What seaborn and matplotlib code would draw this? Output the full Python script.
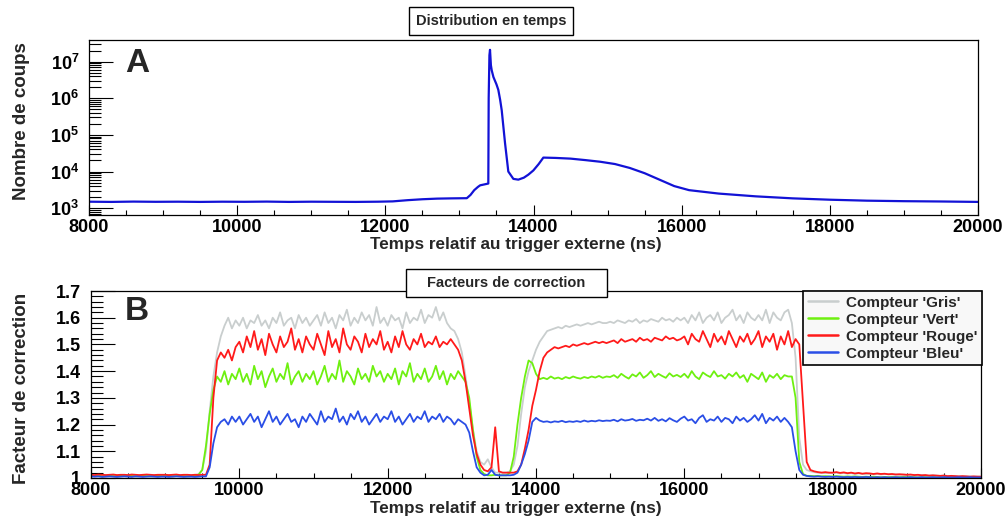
"""
Distribution en temps (A) et facteurs de correction des compteurs (B).
Two stacked panels in a ROOT-like style, drawn with seaborn line plots.
"""

import numpy as np
import pandas as pd
import matplotlib
matplotlib.use('Agg')
import matplotlib.pyplot as plt
from matplotlib.patches import Rectangle
from matplotlib.ticker import LogLocator, NullFormatter, FuncFormatter, MultipleLocator
import seaborn as sns

# ---------------------------------------------------------------- data
# Panel A: time distribution (ns, counts)
top_time = [8000, 8300, 8600, 8900, 9200, 9500, 9800, 10100, 10400, 10700,
            11000, 11300, 11600, 11900, 12100, 12300, 12500, 12700, 12900, 13100,
            13150, 13200, 13250, 13280, 13370, 13390, 13395, 13405, 13413, 13425,
            13436, 13459, 13500, 13525, 13550, 13571, 13616, 13660, 13728, 13795,
            13870, 13930, 13998, 14070, 14133, 14300, 14500, 14700, 14900, 15100,
            15300, 15500, 15700, 15900, 16100, 16500, 17000, 17500, 18000, 18500,
            19000, 19500, 20000]
top_counts = [1500, 1480, 1510, 1490, 1500, 1480, 1500, 1490, 1510, 1480,
              1500, 1490, 1480, 1500, 1530, 1650, 1750, 1820, 1850, 1870,
              2300, 3100, 3800, 4200, 4600, 4700, 1.0e6, 1.5e7, 2.1e7, 8.0e6,
              5.8e6, 3.8e6, 2.4e6, 1.7e6, 9.0e5, 4.7e5, 5.9e4, 1.0e4, 6300, 6000,
              6800, 8200, 10700, 16000, 24000, 23500, 22500, 20500, 18500, 16000,
              12500, 9000, 6000, 4000, 3100, 2500, 2100, 1850, 1700, 1600,
              1550, 1520, 1480]

# Panel B: correction factors, one value every 50 ns from 8000 to 20000 ns
bin_start = 8000
bin_width = 50

gris = [
    1.012, 1.010, 1.011, 1.009, 1.010, 1.011, 1.010, 1.009, 1.011, 1.010, 1.010, 1.012, 1.010, 1.009, 1.010, 1.011, 1.010, 1.010, 1.009, 1.011,
    1.010, 1.011, 1.010, 1.009, 1.010, 1.011, 1.010, 1.010, 1.012, 1.015, 1.03, 1.10, 1.25, 1.38, 1.47, 1.53, 1.57, 1.60, 1.56, 1.59,
    1.57, 1.60, 1.56, 1.59, 1.58, 1.61, 1.57, 1.59, 1.56, 1.60, 1.58, 1.62, 1.57, 1.59, 1.60, 1.56, 1.61, 1.58, 1.60, 1.57,
    1.59, 1.61, 1.57, 1.62, 1.58, 1.60, 1.56, 1.61, 1.59, 1.63, 1.57, 1.60, 1.58, 1.62, 1.59, 1.61, 1.57, 1.64, 1.58, 1.60,
    1.57, 1.61, 1.59, 1.60, 1.56, 1.62, 1.58, 1.60, 1.59, 1.63, 1.58, 1.61, 1.60, 1.64, 1.59, 1.62, 1.58, 1.56, 1.55, 1.52,
    1.47, 1.38, 1.28, 1.18, 1.10, 1.06, 1.05, 1.07, 1.04, 1.02, 1.02, 1.02, 1.02, 1.025, 1.05, 1.12, 1.24, 1.34, 1.40, 1.44,
    1.48, 1.51, 1.53, 1.55, 1.555, 1.56, 1.565, 1.56, 1.57, 1.565, 1.57, 1.575, 1.57, 1.575, 1.58, 1.575, 1.58, 1.585, 1.58, 1.58,
    1.585, 1.58, 1.59, 1.585, 1.58, 1.59, 1.585, 1.595, 1.58, 1.59, 1.585, 1.595, 1.59, 1.585, 1.60, 1.59, 1.595, 1.585, 1.60, 1.59,
    1.60, 1.58, 1.61, 1.59, 1.62, 1.58, 1.60, 1.61, 1.59, 1.62, 1.58, 1.60, 1.61, 1.63, 1.59, 1.61, 1.58, 1.62, 1.60, 1.59,
    1.61, 1.59, 1.63, 1.58, 1.62, 1.60, 1.59, 1.62, 1.63, 1.58, 1.45, 1.15, 1.05, 1.03, 1.025, 1.022, 1.02, 1.02, 1.018, 1.02,
    1.018, 1.02, 1.017, 1.019, 1.016, 1.018, 1.015, 1.017, 1.016, 1.015, 1.016, 1.014, 1.015, 1.013, 1.015, 1.014, 1.013, 1.014, 1.012, 1.013,
    1.012, 1.011, 1.012, 1.010, 1.011, 1.010, 1.009, 1.010, 1.009, 1.008, 1.009, 1.008, 1.007, 1.008, 1.007, 1.006, 1.007, 1.006, 1.005, 1.006,
    1.005]

vert = [
    1.008, 1.007, 1.008, 1.006, 1.007, 1.008, 1.007, 1.006, 1.008, 1.007, 1.007, 1.008, 1.006, 1.007, 1.008, 1.007, 1.006, 1.007, 1.008, 1.007,
    1.007, 1.008, 1.006, 1.007, 1.008, 1.007, 1.006, 1.007, 1.009, 1.012, 1.03, 1.12, 1.24, 1.33, 1.38, 1.36, 1.40, 1.35, 1.39, 1.37,
    1.41, 1.36, 1.39, 1.35, 1.42, 1.37, 1.40, 1.34, 1.38, 1.41, 1.36, 1.39, 1.37, 1.43, 1.35, 1.38, 1.40, 1.36, 1.39, 1.37,
    1.40, 1.35, 1.38, 1.42, 1.36, 1.39, 1.37, 1.44, 1.36, 1.40, 1.38, 1.35, 1.41, 1.37, 1.39, 1.36, 1.42, 1.38, 1.40, 1.36,
    1.39, 1.37, 1.41, 1.35, 1.40, 1.38, 1.43, 1.36, 1.39, 1.37, 1.41, 1.36, 1.38, 1.42, 1.37, 1.40, 1.35, 1.39, 1.37, 1.40,
    1.38, 1.36, 1.30, 1.18, 1.08, 1.03, 1.015, 1.01, 1.01, 1.012, 1.01, 1.01, 1.01, 1.02, 1.08, 1.20, 1.30, 1.38, 1.44, 1.43,
    1.39, 1.37, 1.375, 1.37, 1.38, 1.372, 1.376, 1.37, 1.378, 1.373, 1.38, 1.375, 1.372, 1.378, 1.374, 1.38, 1.376, 1.382, 1.375, 1.38,
    1.378, 1.385, 1.375, 1.39, 1.38, 1.372, 1.388, 1.38, 1.395, 1.375, 1.385, 1.40, 1.378, 1.39, 1.382, 1.375, 1.392, 1.38, 1.386, 1.378,
    1.39, 1.375, 1.40, 1.38, 1.37, 1.395, 1.385, 1.378, 1.40, 1.38, 1.385, 1.372, 1.39, 1.38, 1.395, 1.375, 1.385, 1.36, 1.39, 1.38,
    1.37, 1.395, 1.36, 1.385, 1.375, 1.39, 1.37, 1.385, 1.38, 1.38, 1.30, 1.06, 1.015, 1.008, 1.008, 1.007, 1.008, 1.006, 1.007, 1.006,
    1.006, 1.007, 1.006, 1.005, 1.006, 1.005, 1.006, 1.005, 1.004, 1.005, 1.004, 1.005, 1.004, 1.003, 1.004, 1.003, 1.004, 1.003, 1.003, 1.004,
    1.003, 1.004, 1.003, 1.002, 1.003, 1.003, 1.002, 1.003, 1.002, 1.003, 1.002, 1.002, 1.003, 1.002, 1.002, 1.003, 1.002, 1.002, 1.003, 1.002,
    1.002]

rouge = [
    1.012, 1.011, 1.013, 1.012, 1.011, 1.012, 1.013, 1.011, 1.012, 1.012, 1.011, 1.013, 1.012, 1.011, 1.012, 1.013, 1.012, 1.011, 1.012, 1.012,
    1.012, 1.011, 1.012, 1.013, 1.011, 1.012, 1.012, 1.011, 1.012, 1.011, 1.012, 1.012, 1.05, 1.30, 1.44, 1.47, 1.45, 1.48, 1.44, 1.49,
    1.51, 1.47, 1.53, 1.49, 1.55, 1.48, 1.52, 1.46, 1.54, 1.50, 1.47, 1.53, 1.49, 1.51, 1.56, 1.48, 1.52, 1.47, 1.53, 1.50,
    1.48, 1.54, 1.50, 1.46, 1.55, 1.49, 1.52, 1.47, 1.56, 1.50, 1.48, 1.53, 1.51, 1.47, 1.54, 1.49, 1.52, 1.50, 1.55, 1.48,
    1.51, 1.47, 1.53, 1.49, 1.55, 1.50, 1.48, 1.52, 1.50, 1.54, 1.49, 1.51, 1.50, 1.53, 1.49, 1.51, 1.50, 1.52, 1.50, 1.48,
    1.44, 1.36, 1.26, 1.16, 1.09, 1.05, 1.03, 1.025, 1.04, 1.19, 1.025, 1.02, 1.02, 1.02, 1.02, 1.025, 1.05, 1.11, 1.18, 1.27,
    1.33, 1.40, 1.45, 1.47, 1.48, 1.49, 1.485, 1.49, 1.495, 1.49, 1.50, 1.495, 1.50, 1.505, 1.50, 1.505, 1.51, 1.505, 1.51, 1.505,
    1.51, 1.515, 1.505, 1.52, 1.51, 1.515, 1.52, 1.51, 1.525, 1.515, 1.52, 1.51, 1.525, 1.52, 1.515, 1.53, 1.52, 1.525, 1.515, 1.52,
    1.53, 1.50, 1.54, 1.52, 1.51, 1.55, 1.52, 1.49, 1.54, 1.51, 1.53, 1.50, 1.55, 1.52, 1.49, 1.53, 1.51, 1.54, 1.50, 1.52,
    1.55, 1.49, 1.53, 1.51, 1.54, 1.48, 1.53, 1.50, 1.55, 1.49, 1.52, 1.50, 1.28, 1.06, 1.03, 1.025, 1.022, 1.02, 1.022, 1.02,
    1.02, 1.022, 1.019, 1.021, 1.018, 1.02, 1.017, 1.019, 1.016, 1.018, 1.017, 1.015, 1.017, 1.015, 1.016, 1.014, 1.015, 1.013, 1.014, 1.013,
    1.012, 1.013, 1.011, 1.012, 1.010, 1.011, 1.009, 1.010, 1.009, 1.008, 1.009, 1.007, 1.008, 1.007, 1.006, 1.007, 1.006, 1.005, 1.006, 1.005,
    1.005]

bleu = [
    1.006, 1.005, 1.006, 1.004, 1.005, 1.006, 1.005, 1.004, 1.005, 1.006, 1.005, 1.004, 1.006, 1.005, 1.004, 1.005, 1.006, 1.005, 1.004, 1.005,
    1.005, 1.004, 1.005, 1.006, 1.005, 1.004, 1.005, 1.005, 1.004, 1.005, 1.006, 1.006, 1.04, 1.13, 1.19, 1.21, 1.22, 1.20, 1.23, 1.21,
    1.23, 1.20, 1.22, 1.24, 1.21, 1.23, 1.19, 1.22, 1.25, 1.21, 1.23, 1.20, 1.22, 1.24, 1.21, 1.22, 1.19, 1.23, 1.21, 1.24,
    1.22, 1.20, 1.25, 1.21, 1.23, 1.22, 1.26, 1.21, 1.23, 1.20, 1.24, 1.22, 1.25, 1.21, 1.23, 1.20, 1.22, 1.24, 1.21, 1.23,
    1.22, 1.25, 1.21, 1.23, 1.20, 1.22, 1.24, 1.21, 1.23, 1.22, 1.25, 1.21, 1.23, 1.22, 1.24, 1.21, 1.23, 1.22, 1.20, 1.22,
    1.21, 1.20, 1.17, 1.10, 1.04, 1.02, 1.01, 1.012, 1.03, 1.012, 1.01, 1.01, 1.01, 1.01, 1.012, 1.02, 1.05, 1.09, 1.14, 1.21,
    1.225, 1.215, 1.21, 1.212, 1.208, 1.212, 1.21, 1.214, 1.209, 1.212, 1.21, 1.213, 1.21, 1.215, 1.211, 1.214, 1.212, 1.216, 1.213, 1.215,
    1.214, 1.218, 1.212, 1.22, 1.215, 1.217, 1.221, 1.214, 1.218, 1.216, 1.222, 1.215, 1.225, 1.214, 1.22, 1.212, 1.224, 1.216, 1.21, 1.222,
    1.23, 1.215, 1.22, 1.205, 1.225, 1.235, 1.21, 1.22, 1.215, 1.23, 1.21, 1.225, 1.22, 1.205, 1.23, 1.215, 1.225, 1.21, 1.22, 1.235,
    1.215, 1.24, 1.205, 1.225, 1.215, 1.23, 1.21, 1.225, 1.21, 1.19, 1.10, 1.03, 1.012, 1.008, 1.006, 1.005, 1.006, 1.005, 1.004, 1.005,
    1.004, 1.005, 1.004, 1.003, 1.004, 1.003, 1.004, 1.003, 1.003, 1.004, 1.003, 1.002, 1.003, 1.002, 1.003, 1.002, 1.002, 1.003, 1.002, 1.002,
    1.002, 1.003, 1.002, 1.002, 1.003, 1.002, 1.002, 1.003, 1.002, 1.002, 1.003, 1.002, 1.002, 1.002, 1.003, 1.002, 1.002, 1.003, 1.002, 1.002,
    1.002]

counter_names = ["Compteur 'Gris'", "Compteur 'Vert'", "Compteur 'Rouge'", "Compteur 'Bleu'"]
counter_colors = ['#c9cece', '#6ef010', '#ff1a1a', '#2a4ee6']

# ---------------------------------------------------------------- style
sns.set_style('ticks')
plt.rcParams['font.family'] = ['Liberation Sans', 'DejaVu Sans']
plt.rcParams['font.weight'] = 'bold'
plt.rcParams['mathtext.fontset'] = 'custom'
plt.rcParams['mathtext.bf'] = 'Liberation Sans:bold'
plt.rcParams['mathtext.rm'] = 'Liberation Sans:bold'

W, H = 1007, 521
fig = plt.figure(figsize=(W / 100, H / 100), dpi=100)
ax_top = fig.add_axes([89 / W, 1 - 215 / H, (978 - 89) / W, 175 / H])
ax_bot = fig.add_axes([91 / W, 1 - 478 / H, (981 - 91) / W, 187 / H])

# ---------------------------------------------------------------- panel A
sns.lineplot(x=top_time, y=top_counts, ax=ax_top, color='#1212d6', linewidth=1.6,
             estimator=None)
ax_top.set_yscale('log')
ax_top.set_ylim(650, 3.9e7)
ax_top.yaxis.set_major_locator(LogLocator(base=10, numticks=10))
ax_top.yaxis.set_minor_locator(LogLocator(base=10, subs=np.arange(2, 10), numticks=20))
ax_top.yaxis.set_minor_formatter(NullFormatter())
ax_top.yaxis.set_major_formatter(FuncFormatter(lambda v, _: r'$\mathbf{10^{%d}}$' % round(np.log10(v))))

# ---------------------------------------------------------------- panel B
corr_time = np.arange(bin_start, 20001, bin_width)
frames = []
for name, values in zip(counter_names, [gris, vert, rouge, bleu]):
    assert len(values) == len(corr_time), (name, len(values))
    frames.append(pd.DataFrame({'temps': corr_time, 'facteur': values, 'compteur': name}))
corr_df = pd.concat(frames, ignore_index=True)

sns.lineplot(data=corr_df, x='temps', y='facteur', hue='compteur', hue_order=counter_names,
             palette=dict(zip(counter_names, counter_colors)), estimator=None,
             linewidth=1.3, ax=ax_bot)
ax_bot.set_ylim(1.0, 1.7)
ax_bot.yaxis.set_major_locator(MultipleLocator(0.1))
ax_bot.yaxis.set_minor_locator(MultipleLocator(0.02))
ax_bot.yaxis.set_major_formatter(FuncFormatter(lambda v, _: '%g' % round(v, 2)))

handles, labels = ax_bot.get_legend_handles_labels()
ax_bot.get_legend().remove()
leg = ax_bot.legend(handles, labels, loc='upper right', bbox_to_anchor=(982 / W, 1 - 291 / H),
                    bbox_transform=fig.transFigure, borderaxespad=0, fancybox=False,
                    framealpha=1, facecolor='#f8f8f8', edgecolor='black',
                    prop={'weight': 'bold', 'size': 11},
                    handlelength=2.0, labelspacing=0.2, borderpad=0.3, handletextpad=0.5)
leg.get_frame().set_linewidth(1.2)
for line in leg.get_lines():
    line.set_linewidth(1.8)

# ---------------------------------------------------------------- shared axis look
for ax in (ax_top, ax_bot):
    ax.set_xlim(8000, 20000)
    ax.xaxis.set_major_locator(MultipleLocator(2000))
    ax.xaxis.set_minor_locator(MultipleLocator(500))
    ax.xaxis.set_major_formatter(FuncFormatter(lambda v, _: '%d' % v))
    ax.set_xlabel('')
    ax.set_ylabel('')
    ax.tick_params(axis='both', which='both', direction='in', top=False, right=False,
                   width=0.8, colors='black', labelsize=13)
    ax.tick_params(axis='x', which='major', length=7, pad=3)
    ax.tick_params(axis='x', which='minor', length=3.5)
    ax.tick_params(axis='y', which='major', length=17, pad=7)
    ax.tick_params(axis='y', which='minor', length=8.5)
    for tl in ax.get_xticklabels() + ax.get_yticklabels():
        tl.set_fontweight('bold')
    for sp in ax.spines.values():
        sp.set_visible(True)
        sp.set_linewidth(0.9)
        sp.set_color('black')

# ---------------------------------------------------------------- texts
fig.text(516 / W, 1 - 245 / H, 'Temps relatif au trigger externe (ns)', ha='center', va='center',
         fontsize=12.3, weight='bold')
fig.text(516 / W, 1 - 509 / H, 'Temps relatif au trigger externe (ns)', ha='center', va='center',
         fontsize=12.3, weight='bold')
fig.text(22 / W, 1 - 121 / H, 'Nombre de coups', rotation=90, ha='center', va='center',
         fontsize=13.5, weight='bold')
fig.text(22 / W, 1 - 388 / H, 'Facteur de correction', rotation=90, ha='center', va='center',
         fontsize=13.5, weight='bold')
fig.text(137 / W, 1 - 64 / H, 'A', ha='center', va='center', fontsize=24, weight='bold')
fig.text(137 / W, 1 - 312 / H, 'B', ha='center', va='center', fontsize=24, weight='bold')

# title boxes sitting on top of the frames
for (x0, y0, x1, y1), title in [((409, 7, 573, 35), 'Distribution en temps'),
                                ((406, 269, 607, 297), 'Facteurs de correction')]:
    fig.add_artist(Rectangle((x0 / W, 1 - y1 / H), (x1 - x0) / W, (y1 - y0) / H,
                             transform=fig.transFigure, facecolor='white', edgecolor='black',
                             linewidth=1.0, zorder=5))
    fig.text((x0 + x1) / 2 / W, 1 - (y0 + y1) / 2 / H, title, ha='center', va='center',
             fontsize=10.5, weight='bold', zorder=6)

fig.savefig('out.png', dpi=100)
print('saved out.png')
